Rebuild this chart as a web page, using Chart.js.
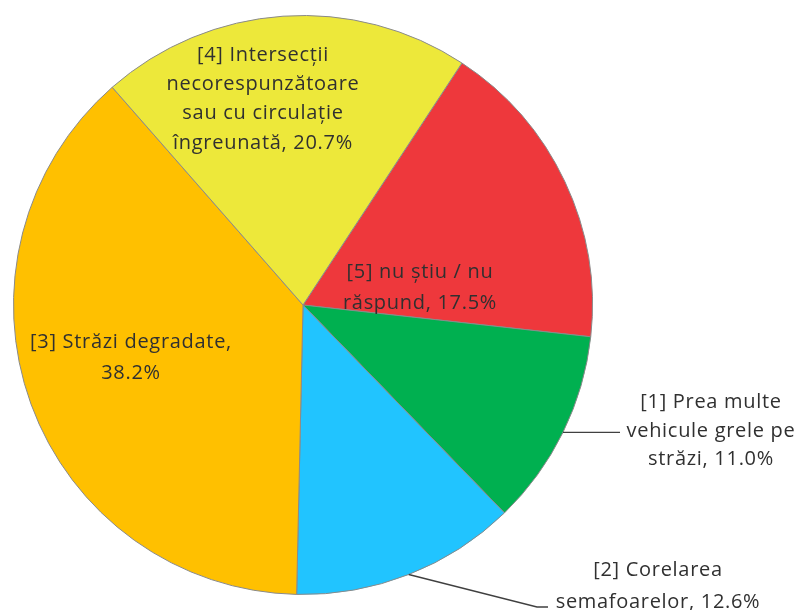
<!DOCTYPE html>
<html>
<head>
<meta charset="utf-8">
<script src="https://cdn.jsdelivr.net/npm/chart.js@4.4.0/dist/chart.umd.min.js"></script>
<style>
  body { margin: 0; background: #fff; }
</style>
</head>
<body>
<canvas id="pie" width="798" height="610"></canvas>
<script>
// slices in drawing order, clockwise from the top-right
const categories = [
  '[5] nu știu / nu răspund',
  '[1] Prea multe vehicule grele pe străzi',
  '[2] Corelarea semafoarelor',
  '[3] Străzi degradate',
  '[4] Intersecții necorespunzătoare sau cu circulație îngreunată'
];
const shares = [17.5, 11.0, 12.6, 38.2, 20.7];
const sliceColors = ['#EE383C', '#00B050', '#21C4FF', '#FFC000', '#EDE83A'];

// label placement relative to the pie centre, wrap width, leader points
const labelSpots = [
  { dx: 117, dy: -17, wrap: 185, lh: 31 },
  { dx: 408, dy: 126, wrap: 205, lh: 28.5, leader: [[317, null]] },
  { dx: 355, dy: 281, wrap: 235, lh: 32, leader: [[234, 302], [245, 302]] },
  { dx: -172, dy: 53, wrap: 250, lh: 31 },
  { dx: -40, dy: -206, wrap: 215, lh: 29.3 }
];

function wrapText(ctx, text, maxW) {
  const words = text.split(' ');
  const lines = [];
  let cur = '';
  words.forEach(w => {
    const test = cur ? cur + ' ' + w : w;
    if (cur && ctx.measureText(test).width > maxW) {
      lines.push(cur);
      cur = w;
    } else {
      cur = test;
    }
  });
  if (cur) lines.push(cur);
  return lines;
}

const pieLabels = {
  id: 'pieLabels',
  afterDatasetsDraw(chart) {
    const ctx = chart.ctx;
    const arcs = chart.getDatasetMeta(0).data;
    ctx.save();
    ctx.font = '20px "Open Sans"';
    ctx.letterSpacing = '0.7px';
    ctx.fillStyle = '#303030';
    ctx.strokeStyle = '#404040';
    ctx.lineWidth = 1.3;
    ctx.textAlign = 'center';
    ctx.textBaseline = 'middle';
    arcs.forEach((arc, i) => {
      const spot = labelSpots[i];
      const cx = arc.x, cy = arc.y;
      if (spot.leader) {
        const mid = (arc.startAngle + arc.endAngle) / 2;
        const ex = cx + Math.cos(mid) * arc.outerRadius;
        const ey = cy + Math.sin(mid) * arc.outerRadius;
        ctx.beginPath();
        ctx.moveTo(ex, ey);
        spot.leader.forEach(p => ctx.lineTo(cx + p[0], p[1] === null ? ey : cy + p[1]));
        ctx.stroke();
      }
      const lines = wrapText(ctx, categories[i] + ', ' + shares[i].toFixed(1) + '%', spot.wrap);
      const top = cy + spot.dy - (lines.length - 1) * spot.lh / 2;
      lines.forEach((l, k) => ctx.fillText(l, cx + spot.dx, top + k * spot.lh));
    });
    ctx.restore();
  }
};

new Chart(document.getElementById('pie'), {
  type: 'pie',
  data: {
    labels: categories,
    datasets: [{
      data: shares,
      backgroundColor: sliceColors,
      borderColor: '#8a8a8a',
      borderWidth: 1
    }]
  },
  options: {
    responsive: false,
    animation: false,
    rotation: 33.3,
    layout: { padding: { left: 13, top: 15, right: 205, bottom: 15 } },
    plugins: {
      legend: { display: false },
      tooltip: { enabled: false }
    }
  },
  plugins: [pieLabels]
});
</script>
</body>
</html>
